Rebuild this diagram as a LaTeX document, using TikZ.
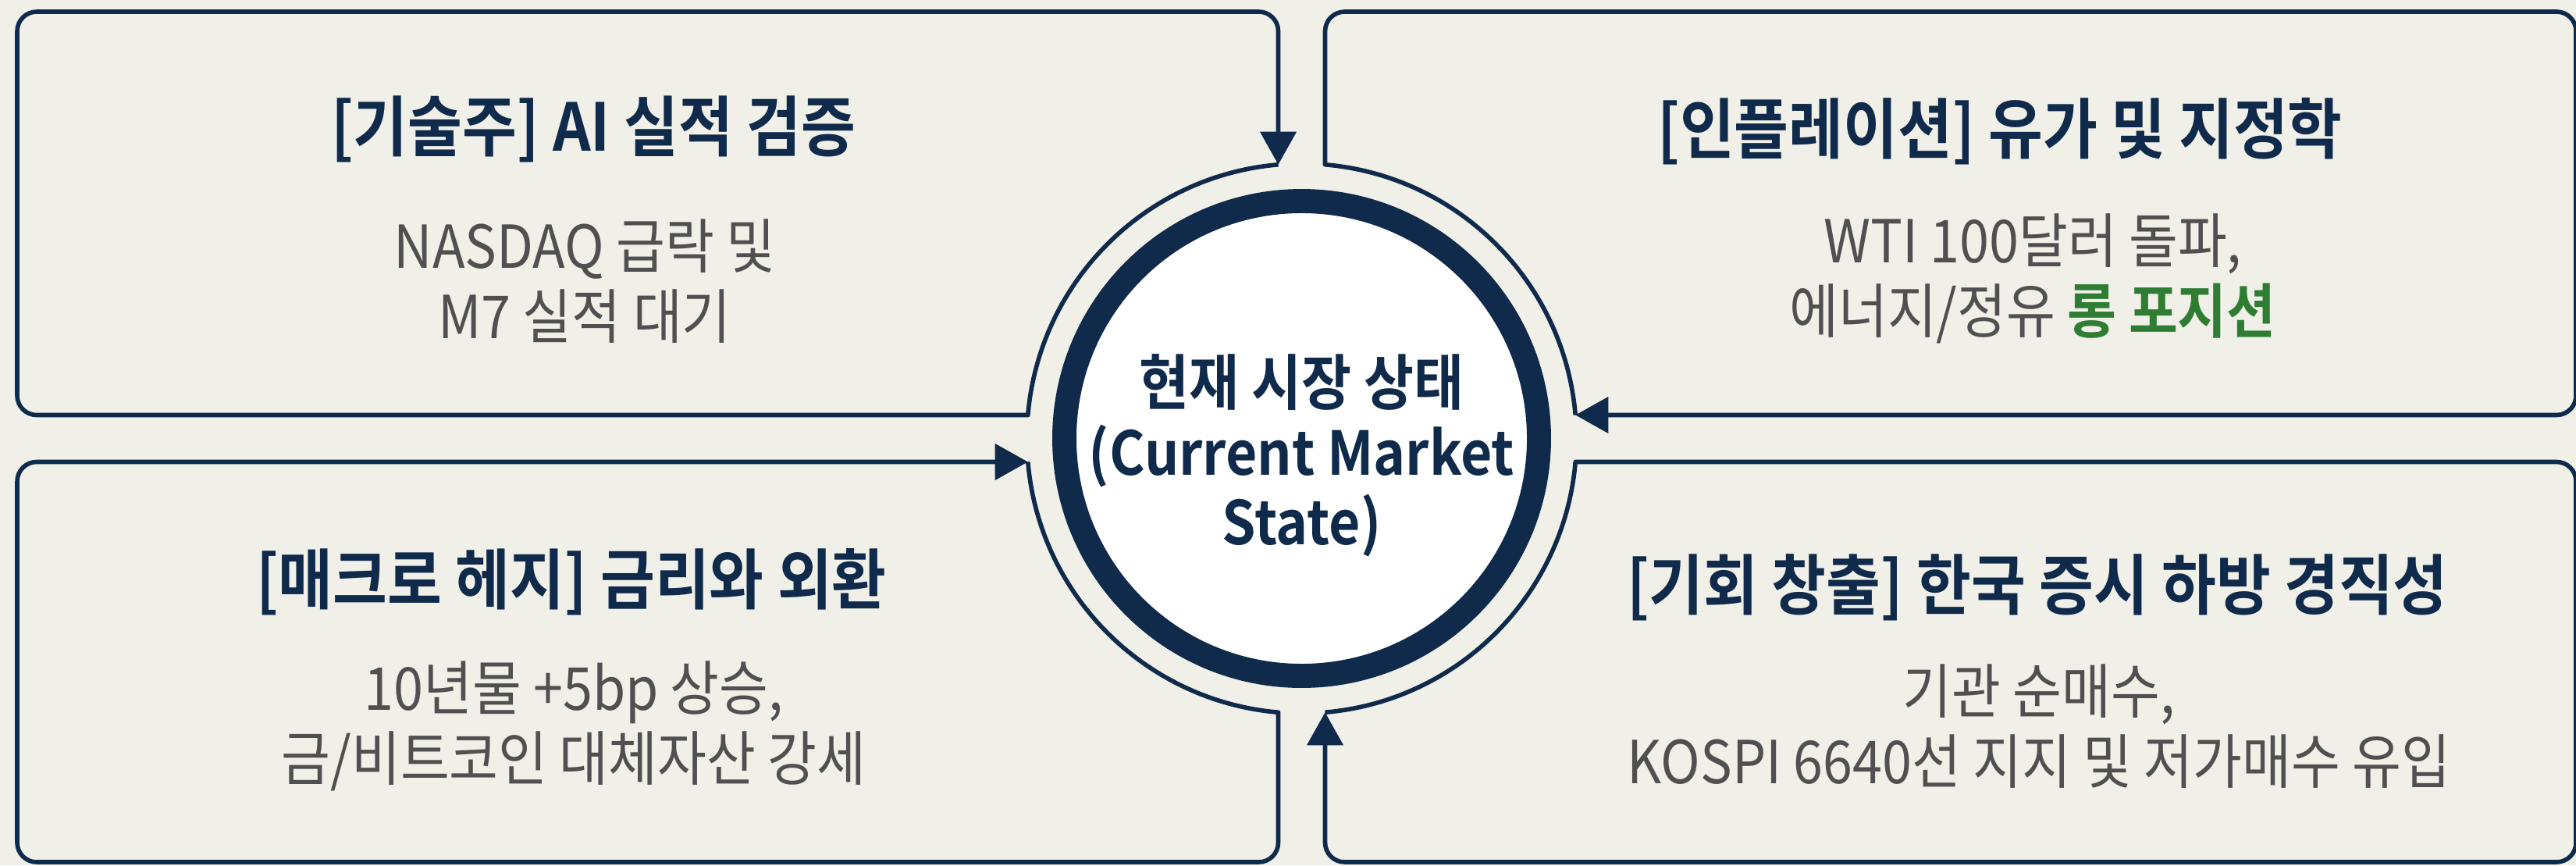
\documentclass[tikz,border=0pt]{standalone}
\usepackage{fontspec}
\setmainfont{Noto Sans CJK KR}[BoldFont={Noto Sans CJK KR Bold},FakeStretch=0.9]
\usetikzlibrary{arrows.meta,calc}

\definecolor{navy}{HTML}{0F2A4A}
\definecolor{paper}{HTML}{F0EFE8}
\definecolor{bodygray}{HTML}{505050}
\definecolor{longgreen}{HTML}{2E7D32}

\def\rad{3.52}              % radius of the thin arcs round the ring
\def\off{4.89}              % angle where an arc meets a straight edge
\def\xl{0.22} \def\xr{33.0} % outer left and right edges
\def\yt{-0.15} \def\yb{-11.04}

\begin{document}
\begin{tikzpicture}[
    edge/.style={draw=navy, line width=1.6pt, line join=round},
    tip/.style={-{Triangle[width=13pt,length=12pt]}},
    ring/.style={circle, draw=navy, fill=white, line width=8.8pt,
      minimum size=6.08cm, inner sep=0pt},
    headtext/.style={font=\bfseries\fontsize{24}{28}\selectfont, text=navy},
    notetext/.style={font=\fontsize{21.6}{25.5}\selectfont, text=bodygray, align=center},
  ]
  \useasboundingbox (0,0) rectangle (33,-11.08);
  \fill[paper] (0,0) rectangle (33,-11.08);
  \coordinate (c) at (16.675,-5.615);

  % top left box, arrow down onto the arc
  \draw[edge,tip] ($(c)+(90+\off:\rad)$) arc[start angle=90+\off, end angle=180-\off, radius=\rad]
    [rounded corners=0.25cm] -- (\xl,-5.315) -- (\xl,\yt) -- (16.375,\yt)
    -- ($(c)+(90+\off:\rad)$);
  % top right box, arrow left onto the arc
  \draw[edge,tip] ($(c)+(\off:\rad)$) arc[start angle=\off, end angle=90-\off, radius=\rad]
    [rounded corners=0.25cm] -- (16.975,\yt) -- (\xr,\yt) -- (\xr,-5.315)
    -- ($(c)+(\off:\rad)$);
  % bottom left box, arrow right onto the arc
  \draw[edge,tip] ($(c)+(180+\off:\rad)$) arc[start angle=180+\off, end angle=270-\off, radius=\rad]
    [rounded corners=0.25cm] -- (16.375,\yb) -- (\xl,\yb) -- (\xl,-5.915)
    -- ($(c)+(180+\off:\rad)$);
  % bottom right box, arrow up onto the arc
  \draw[edge,tip] ($(c)+(270+\off:\rad)$) arc[start angle=270+\off, end angle=360-\off, radius=\rad]
    [rounded corners=0.25cm] -- (\xr,-5.915) -- (\xr,\yb) -- (16.975,\yb)
    -- ($(c)+(270+\off:\rad)$);

  % centre
  \node[ring] (state) at (c) {};
  \node[font=\bfseries\fontsize{22}{25.5}\selectfont, text=navy, align=center]
    (state-text) at ($(state.center)+(0,-0.22)$) {현재 시장 상태\\(Current Market\\State)};

  % box texts
  \node[headtext] (tl-head) at (7.60,-1.65) {[기술주] AI 실적 검증};
  \node[notetext] (tl-note) at (7.49,-3.60) {NASDAQ 급락 및\\M7 실적 대기};
  \node[headtext] (tr-head) at (25.62,-1.68) {[인플레이션] 유가 및 지정학};
  \node[notetext] (tr-note) at (26.04,-3.57)
    {WTI 100달러 돌파,\\에너지/정유 \textcolor{longgreen}{\bfseries 롱 포지션}};
  \node[headtext] (bl-head) at (7.32,-7.45) {[매크로 헤지] 금리와 외환};
  \node[notetext] (bl-note) at (7.35,-9.30) {10년물 +5bp 상승,\\금/비트코인 대체자산 강세};
  \node[headtext] (br-head) at (26.10,-7.52) {[기회 창출] 한국 증시 하방 경직성};
  \node[notetext] (br-note) at (26.12,-9.30) {기관 순매수,\\KOSPI 6640선 지지 및 저가매수 유입};
\end{tikzpicture}
\end{document}
